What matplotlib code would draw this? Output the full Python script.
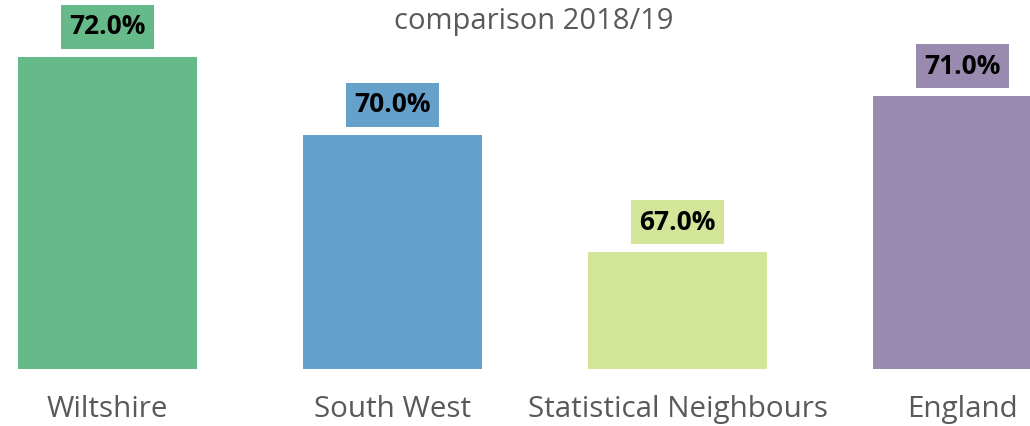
import matplotlib
matplotlib.use("Agg")
import matplotlib.pyplot as plt

categories = ["Wiltshire", "South West", "Statistical Neighbours", "England"]
values = [72.0, 70.0, 67.0, 71.0]
colors = ["#66b988", "#66a1cc", "#d3e598", "#998aaf"]
title = "comparison 2018/19"

plt.rcParams['font.family'] = ['Open Sans', 'DejaVu Sans']

W, H = 1030, 426
fig = plt.figure(figsize=(W / 100, H / 100), dpi=100)
ax = fig.add_axes([0, (H - 369) / H, 1, 369 / H])

x = list(range(len(categories)))
ax.bar(x, values, width=179 / 285, color=colors, bottom=0)
ax.set_xlim(-107.5 / 285, (W - 107.5) / 285)
ax.set_ylim(64, 64 + 369 / 39)

for xi, v, c in zip(x, values, colors):
    ax.annotate(f"{v:.1f}%", xy=(xi, v), xytext=(0, 30 * 0.72), textcoords="offset points",
                ha="center", va="center", fontsize=19, fontweight="bold", color="black",
                bbox=dict(boxstyle="square,pad=0.33", fc=c, ec="none"))

ax.set_xticks(x)
ax.set_xticklabels(categories, fontsize=21.3, color="#595959")
ax.tick_params(axis="x", length=0, pad=19)
ax.set_yticks([])
for s in ax.spines.values():
    s.set_visible(False)

fig.text(534 / W, 1 - 21 / H, title, ha="center", va="center", fontsize=21, color="#595959")

fig.savefig("out.png", dpi=100)
